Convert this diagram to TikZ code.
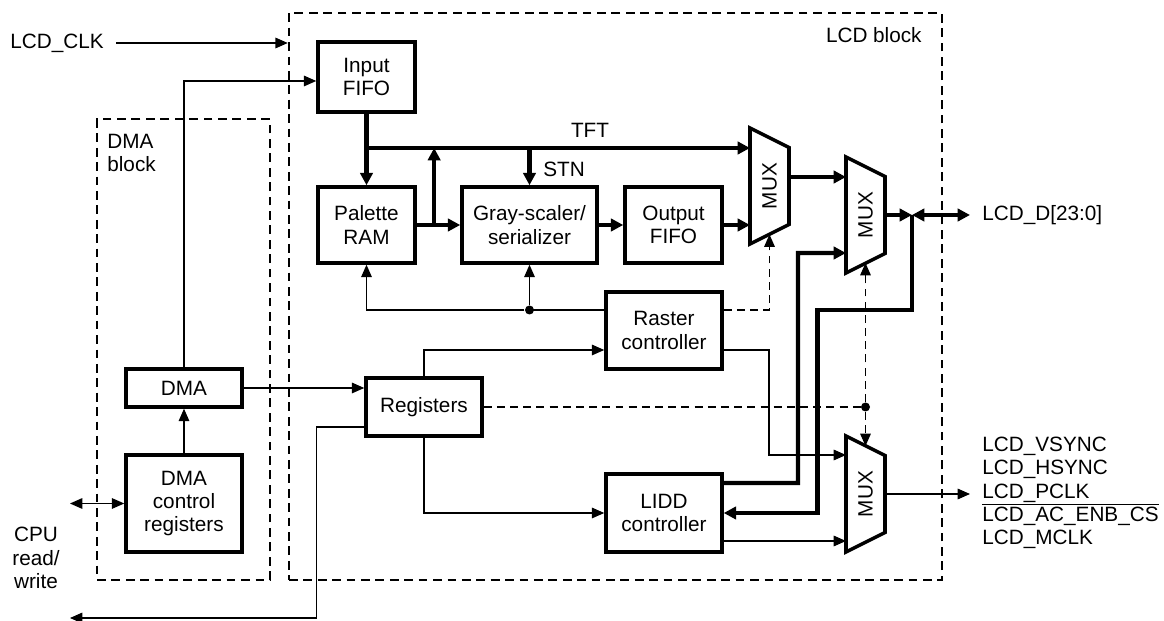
\documentclass[tikz,border=0pt]{standalone}
\usepackage{fontspec}
\setmainfont{Liberation Sans}
\usetikzlibrary{arrows.meta, calc}
\tikzset{
    blk/.style={rectangle, draw, line width=2pt, align=center, inner sep=1pt},
    grp/.style={rectangle, draw, line width=1.4pt, dash pattern=on 5pt off 3.2pt},
    sig/.style={-{Triangle[length=7pt, width=6pt]}, line width=0.7pt},
    sigboth/.style={{Triangle[length=7pt, width=6pt]}-{Triangle[length=7pt, width=6pt]}, line width=0.7pt},
    bus/.style={-{Triangle[length=7pt, width=7pt]}, line width=2.5pt},
    busboth/.style={{Triangle[length=7pt, width=7pt]}-{Triangle[length=7pt, width=7pt]}, line width=2.5pt},
    ctlline/.style={line width=0.7pt, dash pattern=on 4.5pt off 3pt},
    ctl/.style={ctlline, -{Triangle[length=7pt, width=6pt]}},
    muxlbl/.style={rotate=90, inner sep=0pt},
    muxline/.style={line width=2pt, line join=miter},
    lbl/.style={inner sep=0pt},
    jdot/.style={circle, fill, inner sep=0pt, minimum size=0.18cm}
}

\begin{document}
\begin{tikzpicture}[font=\fontsize{11.8}{13.2}\selectfont]
            \useasboundingbox (0,0) rectangle (23.28,-12.42);
            % dashed blocks
            \node[grp, minimum width=13.06cm, minimum height=11.34cm] (lcdblk) at (12.31,-5.93) {};
            \node[grp, minimum width=3.46cm, minimum height=9.22cm] (dmablk) at (3.67,-6.99) {};
            \node[lbl, anchor=east] at (18.44,-0.70) {LCD block};
            \node[lbl, anchor=north west, align=left] at (2.14,-2.68) {DMA\\block};
            % boxes
            \node[blk, minimum width=1.94cm, minimum height=1.40cm] (infifo) at (7.33,-1.54) {Input\\FIFO};
            \node[blk, minimum width=1.94cm, minimum height=1.52cm] (palram) at (7.33,-4.50) {Palette\\RAM};
            \node[blk, minimum width=2.70cm, minimum height=1.52cm] (gray) at (10.59,-4.50) {Gray-scaler/\\serializer};
            \node[blk, minimum width=1.94cm, minimum height=1.52cm] (outfifo) at (13.47,-4.50) {Output\\FIFO};
            \node[blk, minimum width=2.32cm, minimum height=1.54cm] (raster) at (13.28,-6.61) {Raster\\controller};
            \node[blk, minimum width=2.32cm, minimum height=1.56cm] (lidd) at (13.28,-10.26) {LIDD\\controller};
            \node[blk, minimum width=2.32cm, minimum height=1.16cm] (regs) at (8.48,-8.14) {Registers};
            \node[blk, minimum width=2.32cm, minimum height=0.76cm] (dma) at (3.68,-7.76) {DMA};
            \node[blk, minimum width=2.32cm, minimum height=1.94cm] (dmactl) at (3.68,-10.07) {DMA\\control\\registers};
            % muxes
            \node[muxlbl] (mux1) at (15.39,-3.72) {MUX};
            \node[muxlbl] (mux2) at (17.31,-4.30) {MUX};
            \node[muxlbl] (mux3) at (17.31,-9.88) {MUX};
            \foreach \m in {mux1,mux2,mux3}{
                \draw[muxline] ($(\m)+(-0.39,1.16)$) -- ++(0.78,-0.39) -- ++(0,-1.54) -- ++(-0.78,-0.39) -- cycle;
                \coordinate (\m in) at ($(\m)+(-0.39,0)$);
                \coordinate (\m out) at ($(\m)+(0.39,0)$);
            }
            % outside texts
            \node[lbl, anchor=west] (clk) at (0.20,-0.86) {LCD\_CLK};
            \node[lbl, anchor=west, inner xsep=0.24cm] (lcdd) at (19.40,-4.30) {LCD\_D[23:0]};
            \node[lbl, anchor=west, inner xsep=0.24cm, align=left] (pins) at (19.40,-9.86) {LCD\_VSYNC\\LCD\_HSYNC\\LCD\_PCLK\\$\overline{\mbox{LCD\_AC\_ENB\_CS}}$\\LCD\_MCLK};
            \node[lbl, align=center] (cputxt) at (0.72,-11.16) {CPU\\read/\\write};
            \coordinate (cpu) at (1.40,-10.07);
            \coordinate (cpuout) at (1.40,-12.36);
            % thin connections
            \draw[sig] ($(clk.east)+(0.24,0)$) -- (clk -| lcdblk.west);
            \draw[sig] (dma.north) |- ($(infifo.west)+(0,-0.08)$);
            \draw[sig] (dma.east) -- (dma.east -| regs.west);
            \draw[sig] (dmactl.north) -- (dma.south);
            \draw[sigboth] (cpu) -- (cpu -| dmactl.west);
            \draw[sig] ($(regs.west)+(0,-0.40)$) -- ++(-0.96,0) |- (cpuout);
            \draw[sig] (regs.north) |- ($(raster.west)+(0,-0.39)$);
            \draw[sig] (regs.south) |- (lidd.west);
            \coordinate (rasl) at ($(raster.west)+(0,0.41)$);
            \draw[line width=0.7pt] (rasl) -- (rasl -| gray) node[jdot] (rasj) {};
            \draw[sig] (rasj) -| (palram.south);
            \draw[sig] (rasj) -- (gray.south);
            \draw[sig] ($(raster.east)+(0,-0.39)$) -| (15.38,-9.10) -- ($(mux3in)+(0,0.78)$);
            \draw[sig] ($(lidd.east)+(0,-0.56)$) coordinate (lo) -- (lo -| mux3in);
            \draw[sig] (mux3out) -- (mux3out -| pins.west);
            % select lines
            \draw[ctl] ($(raster.east)+(0,0.41)$) -| ($(mux1)+(0,-0.97)$);
            \draw[ctlline] (regs.east) -- (regs.east -| mux2) node[jdot] (selj) {};
            \draw[ctl] (selj) -- ($(mux2)+(0,-0.96)$);
            \draw[ctl] (selj) -- ($(mux3)+(0,0.96)$);
            % data buses
            \coordinate (tftj) at (7.33,-2.96);
            \draw[bus] (infifo.south) -- (palram.north);
            \draw[bus] (tftj) -- (tftj -| mux1in);
            \node[lbl] at (11.80,-2.60) {TFT};
            \draw[bus] (tftj -| gray.north) -- (gray.north);
            \node[lbl, anchor=west] at (10.86,-3.38) {STN};
            \draw[bus] (palram.east) -- (gray.west);
            \coordinate (pj) at ($(palram.east)!0.4!(gray.west)$);
            \draw[bus] (pj) -- (pj |- tftj);
            \draw[bus] (gray.east) -- (outfifo.west);
            \draw[bus] (outfifo.east) -- (outfifo.east -| mux1in);
            \draw[bus] ($(mux1out)+(0,0.18)$) coordinate (m1o) -- (m1o -| mux2in);
            \draw[bus] (mux2out) -- (18.24,-4.30) coordinate (jd);
            \draw[busboth] (jd) -- (lcdd.west);
            \draw[bus] (jd) |- (16.35,-6.20) |- (lidd.east);
            \draw[bus] ($(lidd.east)+(0,0.60)$) -| (15.96,-5.06) -- ($(mux2in)+(0,-0.76)$);
\end{tikzpicture}
\end{document}
